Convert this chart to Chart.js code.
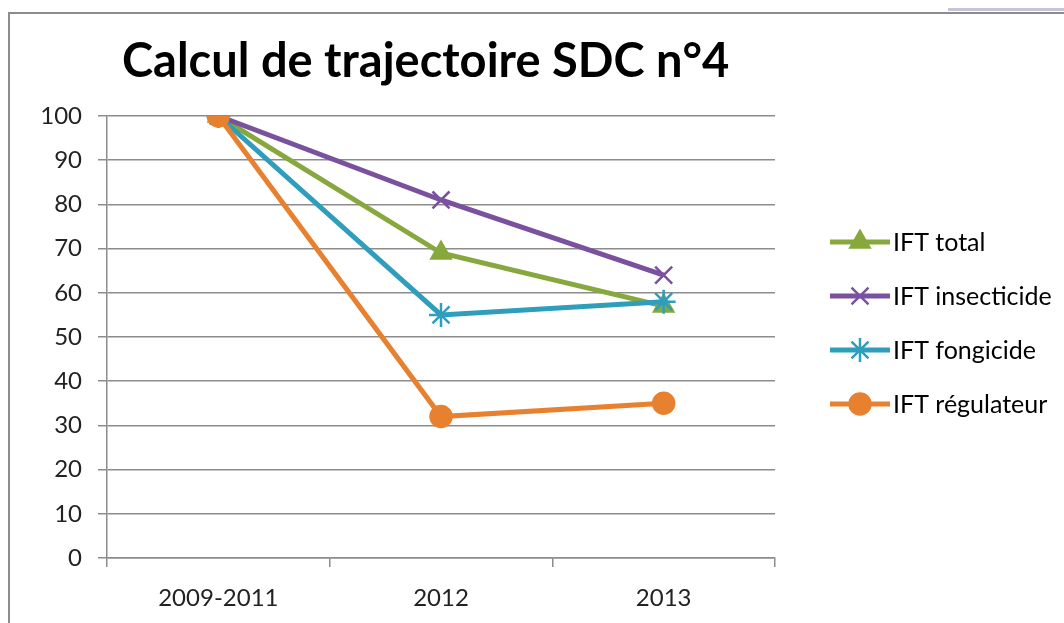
<!DOCTYPE html>
<html>
<head>
<meta charset="utf-8">
<script src="https://cdn.jsdelivr.net/npm/chart.js@4/dist/chart.umd.min.js"></script>
<style>
  html, body { margin: 0; padding: 0; background: #fff; }
  #wrap { position: relative; width: 1064px; height: 623px; overflow: hidden; }
  #frame { position: absolute; left: 8px; top: 12px; width: 1100px; height: 700px;
           border-left: 2px solid #8c8c8c; border-top: 2px solid #8c8c8c; }
  #tab { position: absolute; left: 948px; top: 8px; width: 116px; height: 3px; background: #c9c3d8; }
  canvas { position: absolute; left: 0; top: 0; }
</style>
</head>
<body>
<div id="wrap">
  <div id="frame"></div>
  <div id="tab"></div>
  <canvas id="myChart" width="1064" height="623"></canvas>
</div>
<script>
// Données
const categories = ['2009-2011', '2012', '2013'];
const iftTotal = [100, 69, 57];
const iftInsecticide = [100, 81, 64];
const iftFongicide = [100, 55, 58];
const iftRegulateur = [100, 32, 35];
const yTicks = [0, 10, 20, 30, 40, 50, 60, 70, 80, 90, 100];

const titre = 'Calcul de trajectoire SDC n°4';
const police = "Lato, 'Open Sans', sans-serif";

function serie(label, values, color, style, radius, order) {
    return {
        label: label,
        data: values,
        borderColor: color,
        backgroundColor: color,
        pointBackgroundColor: color,
        pointBorderColor: color,
        borderWidth: 5,
        pointStyle: style,
        pointRadius: radius,
        pointHoverRadius: radius,
        pointBorderWidth: 2.5,
        tension: 0,
        order: order
    };
}

const data = {
    labels: categories,
    datasets: [
        serie('IFT total', iftTotal, '#86a83c', 'triangle', 11, 3),
        serie('IFT insecticide', iftInsecticide, '#7a519f', 'crossRot', 12, 2),
        serie('IFT fongicide', iftFongicide, '#2f9ebd', 'star', 12, 1),
        serie('IFT régulateur', iftRegulateur, '#e8812f', 'circle', 10.5, 0)
    ]
};

// Titre et légende dessinés à la main (style Excel)
const decor = {
    id: 'decor',
    afterDraw(chart) {
        const ctx = chart.ctx;
        const area = chart.chartArea;
        ctx.save();
        ctx.fillStyle = '#000';
        ctx.font = 'bold 47px ' + police;
        ctx.textBaseline = 'middle';
        ctx.textAlign = 'left';
        ctx.fillText(titre, area.left + 15, 62);

        ctx.font = '25px ' + police;
        const x0 = area.right + 55;
        chart.data.datasets.forEach(function (ds, i) {
            const y = area.top + 126 + i * 54;
            ctx.strokeStyle = ds.borderColor;
            ctx.lineWidth = ds.borderWidth;
            ctx.beginPath();
            ctx.moveTo(x0, y);
            ctx.lineTo(x0 + 60, y);
            ctx.stroke();
            ctx.fillStyle = ds.borderColor;
            ctx.lineWidth = ds.pointBorderWidth;
            Chart.helpers.drawPoint(ctx, {
                pointStyle: ds.pointStyle,
                radius: ds.pointRadius,
                borderWidth: ds.pointBorderWidth,
                rotation: 0
            }, x0 + 30, y);
            ctx.fillStyle = '#000';
            ctx.fillText(ds.label, x0 + 63, y + 1);
        });
        ctx.restore();
    }
};

const config = {
    type: 'line',
    data: data,
    options: {
        responsive: false,
        animation: false,
        layout: { padding: { left: 8, top: 116, right: 289, bottom: 10 } },
        plugins: {
            legend: { display: false },
            title: { display: false },
            tooltip: { enabled: false }
        },
        scales: {
            x: {
                offset: true,
                afterFit(scale) { scale.height = 55; },
                grid: { offset: true, drawOnChartArea: false, tickLength: 9, color: '#8c8c8c', lineWidth: 1.5 },
                border: { color: '#8c8c8c', width: 1.5 },
                ticks: { color: '#222', font: { family: police, size: 24 }, padding: 17 }
            },
            y: {
                min: 0,
                max: 100,
                afterBuildTicks(scale) {
                    scale.ticks = yTicks.map(v => ({ value: v }));
                },
                afterFit(scale) { scale.width = 99; },
                grid: { color: '#8c8c8c', lineWidth: 1.5, tickLength: 9 },
                border: { color: '#8c8c8c', width: 1.5 },
                ticks: { color: '#222', font: { family: police, size: 24 }, padding: 16 }
            }
        }
    },
    plugins: [decor]
};

var myChart = new Chart(document.getElementById('myChart'), config);
</script>
</body>
</html>
